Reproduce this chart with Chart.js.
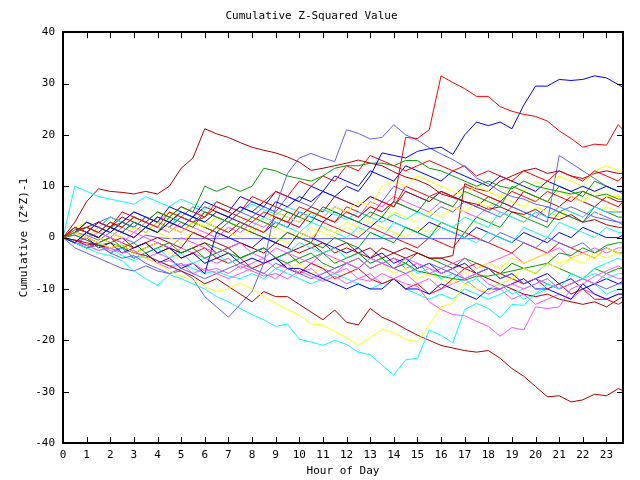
<!DOCTYPE html>
<html>
<head>
<meta charset="utf-8">
<script src="https://cdn.jsdelivr.net/npm/chart.js@4.4.1/dist/chart.umd.min.js"></script>
<style>
  html, body { margin: 0; padding: 0; background: #fff; }
  #wrap { width: 640px; height: 480px; }
</style>
</head>
<body>
<div id="wrap"><canvas id="chart" width="640" height="480"></canvas></div>
<script>
// hour of day for every sample (half-hour steps, last one at the right edge)
let hours = [
  0, 0.5, 1, 1.5, 2, 2.5, 3, 3.5, 4, 4.5, 5, 5.5, 6, 6.5, 7, 7.5,
  8, 8.5, 9, 9.5, 10, 10.5, 11, 11.5, 12, 12.5, 13, 13.5, 14, 14.5, 15, 15.5,
  16, 16.5, 17, 17.5, 18, 18.5, 19, 19.5, 20, 20.5, 21, 21.5, 22, 22.5, 23, 23.5,
  23.7
]
let yTicks = [-40, -30, -20, -10, 0, 10, 20, 30, 40]

// red
let redTop = [
  0, 1.5, 2, 1, 3, 2, 4, 3,
  2, 5, 4, 3, 4, 6, 5, 4,
  3, 5, 4, 3, 6, 5, 4, 3,
  5, 4, 6, 5, 7, 19.5, 19.3, 21,
  31.5, 30.2, 29, 27.5, 27.5, 25.5, 24.6, 24,
  23.6, 22.7, 20.8, 19.3, 17.6, 18.2, 18, 22,
  21
]
let redMid1 = [
  0, 2, 1, 3, 2, 5, 4, 3,
  5, 4, 6, 5, 4, 7, 6, 5,
  8, 7, 9, 8, 11, 10, 12, 11,
  14, 13, 16, 15, 14, 13, 14, 15,
  14, 13, 14, 12, 13, 12, 11, 13,
  12, 11, 13, 12, 11, 13, 12, 11,
  12
]
let redMid2 = [
  0, -1, 1, 0, 2, 1, 0, 2,
  1, 3, 2, 1, 0, 2, 1, 3,
  2, 1, 4, 3, 2, 5, 4, 3,
  6, 5, 4, 7, 6, 10, 9, 8,
  9, 8, 10, 9, 8, 7, 9, 8,
  7, 9, 8, 7, 9, 8, 7, 6,
  7
]
let redLow = [
  0, 1, 0, -1, 0, -1, -2, -1,
  -3, -2, -4, -3, -2, -4, -5, -4,
  -6, -5, -4, -6, -7, -5, -6, -8,
  -7, -6, -8, -9, -8, -10, -9, -11,
  -10, -8, -6, -5, -6, -7, -8, -9,
  -8, -10, -9, -11, -10, -12, -12, -13,
  -12.5
]
let redMid3 = [
  0, 1, 3, 2, 4, 3, 2, 4,
  3, 2, 1, 3, 2, 1, 0, 2,
  1, 0, -1, 1, 0, -1, 3, 2,
  1, 0, 2, 1, 0, -1, -2, 0,
  -1, -2, 1, 0, -1, -2, -3, -1,
  -2, -3, -1, -2, -3, -4, -2, -3,
  -3
]

// blue
let blueTop = [
  0, -1, 1, 0, 2, 1, 0, 2,
  1, 3, 2, 4, 3, 5, 4, 6,
  5, 4, 7, 6, 8, 7, 9, 8,
  10, 9, 12, 16.5, 16, 15.5, 16.8, 17.3,
  17.6, 16.2, 20, 22.5, 21.8, 22.5, 21.2, 25.8,
  29.5, 29.5, 30.8, 30.6, 30.8, 31.5, 31.1, 29.8,
  29.3
]
let blueMid1 = [
  0, 1, 3, 2, 1, 3, 5, 4,
  3, 6, 5, 4, 7, 6, 5, 8,
  7, 6, 9, 8, 7, 10, 9, 12,
  11, 10, 13, 12, 11, 14, 13, 12,
  11, 13, 12, 11, 10, 12, 11, 10,
  9, 11, 10, 9, 10, 9, 10, 9,
  9
]
let blueLow1 = [
  0, -1, 0, -2, -1, -3, -2, -1,
  -3, -2, -4, -3, -5, -4, -3, -5,
  -4, -5, -4, -6, -6, -7, -8, -9,
  -10, -9, -10, -10, -8, -10, -10, -11,
  -9, -10, -11, -12, -10, -10, -9, -8,
  -10, -10, -11, -12, -9, -11, -12, -11,
  -11
]
let blueLow2 = [
  0, -1, -2, -1, -3, -2, -4, -3,
  -5, -4, -6, -5, -7, 1, 0, -1,
  -2, 0, -1, -2, 1, 0, -1, -2,
  -3, -2, -4, -3, -5, -4, -6, -5,
  -7, -6, -5, -7, -6, -8, -7, -9,
  -8, -7, -9, -8, -10, -9, -8, -9,
  -8.5
]
let blueMid2 = [
  0, 2, 1, 3, 2, 1, 3, 2,
  4, 3, 5, 4, 3, 2, 4, 3,
  2, 1, 3, 2, 5, 4, 3, 5,
  4, 3, 2, 4, 3, 2, 1, 3,
  2, 1, 0, 2, 1, 0, -1, 1,
  0, -1, 1, 0, 2, 1, 0, 0,
  0.5
]

// green
let greenTop = [
  0, 1, 2, 1, 3, 2, 4, 3,
  5, 4, 6, 5, 10, 9, 10, 9,
  10, 13.5, 13, 12, 11.5, 11, 12, 13.5,
  14, 14, 14.5, 14.5, 14, 15, 15, 13.5,
  13, 12, 11, 10, 11, 10, 9.5, 11,
  10, 9.5, 9, 8.5, 9, 8, 8.5, 7.5,
  7.5
]
let greenMid = [
  0, -1, 1, 0, 2, 1, 3, 2,
  1, 4, 3, 2, 5, 4, 3, 2,
  4, 3, 2, 5, 4, 3, 6, 5,
  4, 3, 5, 4, 7, 6, 5, 8,
  7, 6, 9, 8, 7, 6, 10, 9,
  8, 7, 10, 9, 8, 11, 10, 9,
  9
]
let greenLow = [
  0, -1, -2, -1, 0, -2, -1, -3,
  -2, -1, -3, -2, -4, -3, -2, -4,
  -3, -2, -4, -3, -5, -4, -3, -5,
  -4, -3, -5, -4, -6, -5, -6.5, -7,
  -7.5, -8, -8.3, -7.5, -7.5, -7, -6.5, -6,
  -5.5, -5, -3, -3.5, -2, -3, -1.5, -1,
  -1
]
let green4 = [
  0, 2, 1, 0, 2, 3, 2, 1,
  3, 2, 4, 3, 2, 1, 3, 2,
  1, 0, -1, 1, 0, -1, -2, 0,
  -1, -2, 1, 0, -1, 2, 1, 0,
  3, 2, 1, 4, 3, 2, 5, 4,
  3, 2, 5, 4, 3, 6, 5, 4,
  4
]
let green5 = [
  0, 0.5, -0.5, -1.5, -1, -2, -3, -2,
  -1, -2, -3, -2, -1, -2, -3, -4,
  -3, -2, -4, -5, -4, -3, -5, -6,
  -5, -4, -6, -5, -4, -5, -3, -4,
  -5, -6, -4, -5, -6, -7, -5, -6,
  -7, -5, -6, -7, -8, -6, -7, -6,
  -6
]

// yellow
let yellowLow = [
  0, 1, 0, -1, -2, -1.5, -3, -4,
  -5, -6.5, -7.5, -8.3, -9.5, -10.5, -10, -8.8,
  -10, -11.5, -12.8, -14, -15.1, -16.8, -17, -18.3,
  -19.5, -21, -19.5, -17.8, -18.5, -19.8, -20.3, -17,
  -13.5, -12.8, -9, -10, -10.5, -9, -8, -6,
  -7, -5, -6, -4, -5, -3, -4, -3,
  -3.5
]
let yellowTop = [
  0, 1, 0, 2, 1, 0, 2, 1,
  3, 2, 1, 3, 2, 4, 3, 2,
  4, 3, 5, 4, 3, 5, 4, 6,
  5, 7, 6, 10, 11, 10, 12, 11,
  10, 9, 8.5, 10, 9, 8, 10, 9,
  11, 10, 12, 11, 10, 13, 14, 13,
  13
]
let yellowMid = [
  0, -1, 1, 0, -1, 1, 0, 2,
  1, 0, -1, 1, 3, 2, 1, 0,
  2, 1, 0, -1, 1, 0, 2, 1,
  3, 2, 4, 3, 5, 4, 3, 5,
  4, 6, 5, 7, 6, 8, 7, 6,
  8, 7, 9, 8, 7, 9, 8, 8,
  8
]
let yellow3 = [
  0, 1, 0, -1, -2, -1, -3, -2,
  -1, -3, -4, -3, -5, -4, -3, -5,
  -6, -5, -4, -6, -5, -7, -6, -4,
  -5, -6, -4, -5, -7, -6, -8, -7,
  -8, -9, -7, -6, -5, -6, -4, -5,
  -4, -3, -5, -4, -3, -4, -2, -3,
  -3
]
let yellow4 = [
  0, 2, 3, 2, 1, 3, 2, 4,
  3, 5, 4, 3, 2, 4, 3, 2,
  1, 3, 2, 1, 0, 2, 1, 0,
  2, 1, 3, 2, 1, 0, 2, 1,
  3, 2, 4, 3, 2, 5, 4, 3,
  6, 5, 4, 6, 5, 4, 6, 5,
  5
]

// cyan
let cyanLow = [
  0, -1, -2, -3, -3.5, -4.5, -6.5, -8,
  -9.3, -7.2, -8, -9, -10, -11.5, -12.5, -13.8,
  -15, -16, -17.3, -16.8, -19.8, -20.3, -21, -20,
  -20.8, -22.3, -22.8, -24.8, -26.8, -23.8, -23.5, -18,
  -19, -20.5, -14, -12.8, -13.8, -15.6, -13, -13.2,
  -11, -9, -10, -7, -8, -6, -5, -4,
  -4.5
]
let cyanSpike = [
  0, 10, 9, 8, 7.5, 7, 6.5, 8,
  7, 6, 7.5, 6.5, 5.5, 7, 6, 5,
  6.5, 5.5, 4.5, 6, 5, 4, 5.5, 4.5,
  3.5, 5, 4, 3, 4.5, 3.5, 5, 4,
  3, 2, 4, 3, 2, 5, 4, 3,
  5, 4, 6, 5, 4, 6, 5, 5,
  5
]
let cyanMid = [
  0, -1, -2, -1, -3, -2, -4, -3,
  -2, -4, -3, -5, -4, -3, -5, -4,
  -3, -2, -4, -3, -1, -2, -3, -2,
  -4, -3, -5, -4, -6, -5, -7, -6,
  -8, -7, -9, -8, -10, -9, -11, -10,
  -9, -8, -10, -9, -8, -7, -8, -7,
  -7
]
let cyan3 = [
  0, 1, 3, 2, 4, 3, 2, 4,
  3, 2, 5, 4, 3, 2, 1, 3,
  2, 4, 3, 2, 1, 3, 2, 1,
  0, 2, 1, 0, 3, 2, 1, 0,
  2, 1, 0, -1, 1, 0, -1, 2,
  1, 0, 3, 2, 1, 0, 2, 1,
  1
]
let cyan4 = [
  0, -0.5, -1.5, -2.5, -2, -3.5, -4.5, -3.5,
  -4.5, -5.5, -5, -6, -7, -6.5, -7.5, -8,
  -7, -8, -6, -7, -8, -9, -8, -7,
  -8, -9, -10, -9, -8, -10, -11, -12,
  -11, -12, -10, -11, -12, -11, -10, -12,
  -11, -10, -9, -11, -10, -9, -11, -10,
  -10
]

// magenta
let magentaLow = [
  0, -1, -1.5, -2.5, -2, -3, -2.5, -4,
  -5, -4.5, -5.5, -5, -6.5, -6, -7, -5.5,
  -6.5, -7.5, -7, -8, -6.5, -7.5, -8.5, -7.5,
  -9, -8, -8.5, -7, -8, -9, -9.5, -12.5,
  -14, -15, -15.2, -16.3, -17.3, -19.2, -17.5, -18,
  -13.5, -13.8, -13.5, -10, -9, -7.5, -6.5, -5.5,
  -6
]
let magentaMid = [
  0, -1, 0, 1, 0, -1, 1, 0,
  -1, -2, 0, -1, -2, -3, -2, -1,
  -3, -4, -2, -3, -4, -5, -3, -4,
  -5, -6, -4, -5, -6, -4, -5, -6,
  -7, -6, -8, -7, -9, -10, -9, -10,
  -9, -8, -10, -9, -8, -9, -7, -8,
  -8
]
let magenta2 = [
  0, 1, 2, 1, 0, 2, 1, 3,
  2, 1, 3, 2, 1, 0, 2, 1,
  3, 2, 4, 3, 2, 5, 4, 6,
  5, 4, 7, 6, 8, 7, 6, 5,
  7, 6, 5, 4, 6, 5, 4, 3,
  5, 4, 6, 5, 4, 6, 5, 5,
  5
]
let magenta3 = [
  0, -1, -2, -1, -3, -2, -4, -3,
  -5, -6, -5, -7, -6, -7, -8, -7,
  -6, -7, -8, -6, -7, -5, -6, -7,
  -5, -4, -6, -5, -4, -6, -5, -7,
  -6, -5, -4, -6, -5, -4, -3, -5,
  -4, -3, -2, -4, -3, -2, -3, -2,
  -2
]
let magenta4 = [
  0, 0.5, -0.5, -1.5, -2.5, -2, -3, -4,
  -3, -4, -2, -3, -4, -5, -4, -6,
  -5, -4, -6, -5, -7, -6, -8, -7,
  -6, -8, -7, -9, -8, -7, -9, -8,
  -10, -9, -8, -10, -11, -10, -12, -11,
  -13, -12, -11, -12, -10, -11, -12, -11,
  -11
]

// dark red
let darkRedBottom = [
  0, -0.5, -1, -1.5, -2, -1.5, -3, -3.5,
  -4.5, -5.5, -6.5, -7.5, -9, -8, -9.5, -11,
  -12.5, -10.5, -11.5, -11.5, -13, -14.5, -16, -14.1,
  -16.5, -17, -13.8, -15.5, -16.5, -17.8, -19, -20,
  -21, -21.5, -22, -22.3, -22, -23.5, -25.5, -27,
  -29, -31, -30.8, -32, -31.6, -30.5, -30.8, -29.4,
  -29.8
]
let darkRedTop = [
  0, 3, 7, 9.5, 9, 8.8, 8.5, 9,
  8.5, 10, 13.5, 15.5, 21.2, 20.2, 19.5, 18.5,
  17.6, 17, 16.5, 15.7, 14.7, 13.1, 13.5, 14,
  14.5, 15.1, 14.5, 14, 12.8, 11.8, 11.2, 10.2,
  8.5, 7.8, 7, 6.5, 5.5, 6, 5, 4.5,
  5.5, 4, 3.5, 4.5, 3, 3.5, 2.5, 2,
  2
]
let darkRedJump = [
  0, -1, 1, 0, -1, 0, -2, -1,
  0, -1, -2, 1, 0, -1, -2, -1,
  -2, -3, -1, -2, -3, -2, -1, -3,
  -2, -3, -4, -2, -3, -4, -3, -4,
  -4, -3.5, 10.5, 9.5, 9, 11, 12, 13,
  13.5, 12.5, 13, 12, 11.5, 12.5, 13, 12.5,
  12.5
]
let darkRedLow = [
  0, -0.5, -1.5, -1, -2, -1.5, -3, -2,
  -1, -2, -3, -2, -1, -3, -2, -4,
  -3, -2, -4, -3, -2, -1, -3, -2,
  -1, -3, -2, -4, -3, -2, -3, -4,
  -4, -5, -6, -7, -8, -9, -10, -11,
  -11.5, -11, -12, -12.5, -13, -12.5, -13.5, -12,
  -11.5
]
let darkRed5 = [
  0, 1, 2, 3, 2, 4, 3, 2,
  4, 3, 5, 4, 6, 5, 4, 6,
  5, 7, 6, 5, 4, 6, 5, 8,
  7, 6, 8, 7, 6, 9, 8, 7,
  9, 8, 7, 6, 8, 7, 6, 9,
  8, 7, 6, 8, 7, 6, 8, 7,
  7
]

// light blue
let lightBluePeak = [
  0, -1, -2, -1.5, -3, -4, -3.5, -5,
  -6, -7, -6.5, -8, -11.5, -13.5, -15.5, -13,
  -10.5, -5, 6, 12.5, 15.5, 16.4, 15.5, 14.8,
  21, 20.3, 19.2, 19.5, 22, 20, 19, 17.5,
  16.3, 15.2, 13.8, 11.6, 10.5, 9, 8, 7.5,
  6.5, 6, 5, 6, 5, 4, 3.5, 3,
  2.5
]
let lightBlueLow = [
  0, -2, -3, -4, -5, -6, -6.5, -5.5,
  -6.5, -7, -6, -7, -8, -7, -6, -5,
  -6, -7, -5, -6, -7, -8, -7, -6,
  -5, -6, -4, -5, -6, -7, -6, -5,
  -6, -7, -8, -7, -6, -8, -7, -9,
  -8, -9, -10, -9, -8, -9, -10, -9,
  -9
]
let lightBlueSpike = [
  0, 1, 0, 2, 1, 3, 2, 4,
  3, 2, 4, 3, 5, 4, 3, 5,
  4, 6, 5, 4, 3, 5, 4, 6,
  5, 4, 6, 5, 7, 6, 5, 4,
  6, 5, 7, 6, 5, 4, 6, 5,
  4, 3, 16, 14.5, 13, 11.5, 10, 9,
  8.5
]
let lightBlueFlat = [
  0, 1, 0.5, -0.5, 1, 0, -1, 0.5,
  0, -0.2, -0.2, -0.2, -0.2, -0.2, -0.2, -0.2,
  -0.2, -0.2, -0.2, -0.2, -0.2, -0.2, -0.2, -0.2,
  -0.2, -0.2, -0.2, -0.2, -0.2, -0.2, -0.2, -0.2,
  -0.2, -0.2, -0.2, -0.2, -1, 1, 0, -1,
  -2, 0, -1, -2, -1, -3, -2, -3,
  -3
]
let lightBlue5 = [
  0, 2, 1, 3, 4, 3, 5, 4,
  3, 5, 4, 6, 5, 4, 3, 5,
  7, 6, 5, 8, 7, 6, 9, 8,
  7, 6, 8, 7, 10, 9, 8, 7,
  9, 8, 7, 6, 5, 7, 6, 5,
  4, 6, 5, 4, 3, 5, 4, 3,
  3
]

let RED = '#ff0000'
let BLUE = '#0000ff'
let GREEN = '#00a000'
let YELLOW = '#ffff00'
let CYAN = '#00ffff'
let MAGENTA = '#ff50ff'
let DARKRED = '#b00000'
let LIGHTBLUE = '#6060ff'

let series = [
  [RED, redTop], [BLUE, blueTop], [GREEN, greenTop], [YELLOW, yellowLow],
  [CYAN, cyanLow], [MAGENTA, magentaLow], [DARKRED, darkRedBottom], [LIGHTBLUE, lightBluePeak],
  [RED, redMid1], [BLUE, blueMid1], [GREEN, greenMid], [YELLOW, yellowTop],
  [CYAN, cyanSpike], [MAGENTA, magentaMid], [DARKRED, darkRedTop], [LIGHTBLUE, lightBlueLow],
  [RED, redMid2], [BLUE, blueLow1], [GREEN, greenLow], [YELLOW, yellowMid],
  [CYAN, cyanMid], [MAGENTA, magenta2], [DARKRED, darkRedJump], [LIGHTBLUE, lightBlueSpike],
  [RED, redLow], [BLUE, blueLow2], [GREEN, green4], [YELLOW, yellow3],
  [CYAN, cyan3], [MAGENTA, magenta3], [DARKRED, darkRedLow], [LIGHTBLUE, lightBlueFlat],
  [RED, redMid3], [BLUE, blueMid2], [GREEN, green5], [YELLOW, yellow4],
  [CYAN, cyan4], [MAGENTA, magenta4], [DARKRED, darkRed5], [LIGHTBLUE, lightBlue5]
]

let datasets = series.map(([color, values]) => ({
  data: hours.map((h, i) => ({ x: h, y: values[i] })),
  borderColor: color,
  borderWidth: 1,
  pointRadius: 0,
  tension: 0,
  fill: false
}))

let FONT = { family: "'DejaVu Sans Mono', monospace", size: 11 }

// frame round the plot with inward tick marks on all four sides
let frameTicks = {
  id: 'frameTicks',
  afterDraw(chart) {
    let { ctx, chartArea: a, scales: { x, y } } = chart
    let len = 6
    ctx.save()
    ctx.strokeStyle = '#000'
    ctx.lineWidth = 1
    ctx.beginPath()
    x.ticks.forEach(t => {
      let px = Math.round(x.getPixelForValue(t.value)) + 0.5
      ctx.moveTo(px, a.bottom); ctx.lineTo(px, a.bottom - len)
      ctx.moveTo(px, a.top); ctx.lineTo(px, a.top + len)
    })
    y.ticks.forEach(t => {
      let py = Math.round(y.getPixelForValue(t.value)) + 0.5
      ctx.moveTo(a.left, py); ctx.lineTo(a.left + len, py)
      ctx.moveTo(a.right, py); ctx.lineTo(a.right - len, py)
    })
    ctx.stroke()
    ctx.lineWidth = 2
    ctx.strokeRect(Math.round(a.left), Math.round(a.top), Math.round(a.right - a.left), Math.round(a.bottom - a.top))
    ctx.restore()
  }
}

new Chart(document.getElementById('chart'), {
  type: 'line',
  data: { datasets: datasets },
  plugins: [frameTicks],
  options: {
    responsive: false,
    animation: false,
    devicePixelRatio: 1,
    layout: { padding: { left: 0, right: 17, top: 0, bottom: 0 } },
    plugins: {
      legend: { display: false },
      tooltip: { enabled: false },
      title: {
        display: true,
        text: 'Cumulative Z-Squared Value',
        color: '#000',
        font: { family: FONT.family, size: 11, weight: 'normal' },
        padding: { top: 10, bottom: 9 }
      }
    },
    scales: {
      x: {
        type: 'linear',
        min: 0,
        max: 23.7,
        afterFit: scale => { scale.height = 37 },
        grid: { display: false, drawTicks: false },
        border: { display: false },
        ticks: {
          stepSize: 1,
          includeBounds: false,
          autoSkip: false,
          maxRotation: 0,
          padding: 6,
          color: '#000',
          font: FONT
        },
        title: {
          display: true,
          text: 'Hour of Day',
          color: '#000',
          font: FONT,
          padding: { top: 0, bottom: 2 }
        }
      },
      y: {
        type: 'linear',
        min: yTicks[0],
        max: yTicks[yTicks.length - 1],
        afterFit: scale => { scale.width = 63 },
        grid: { display: false, drawTicks: false },
        border: { display: false },
        ticks: {
          stepSize: 10,
          padding: 8,
          color: '#000',
          font: FONT
        },
        title: {
          display: true,
          text: 'Cumulative (Z*Z)-1',
          color: '#000',
          font: FONT,
          padding: { top: 18, bottom: 0 }
        }
      }
    }
  }
})
</script>
</body>
</html>
